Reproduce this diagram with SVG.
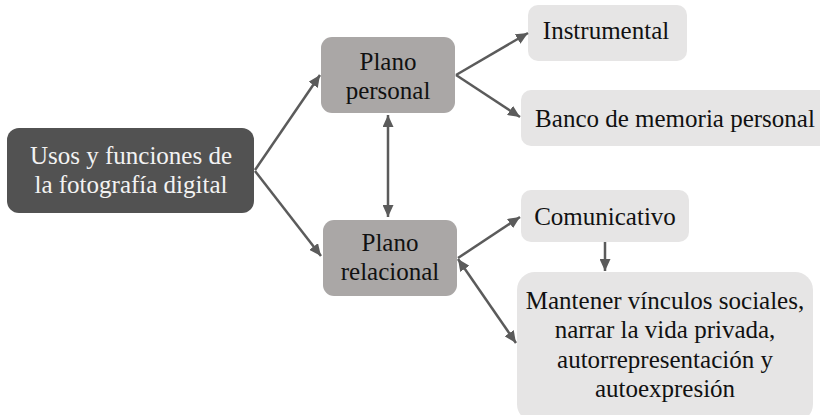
<svg xmlns="http://www.w3.org/2000/svg" width="820" height="415" viewBox="0 0 820 415" font-family="'Liberation Serif', serif">
  <style>
    text { font-family: 'Liberation Serif', serif; font-size: 25px; text-anchor: middle; }
    .dark rect { fill: #525252; }
    .dark text { fill: #f2f2f2; }
    .mid rect { fill: #aaa7a6; }
    .light rect { fill: #e6e5e5; }
    .mid text, .light text { fill: #111111; }
    .conn line { stroke: #5b5b5b; stroke-width: 2.5; fill: none; }
  </style>
  <defs>
    <marker id="ah" viewBox="0 0 12 11" refX="12" refY="5.5" markerWidth="12" markerHeight="11" markerUnits="userSpaceOnUse" orient="auto-start-reverse">
      <path d="M0,0 L12,5.5 L0,11 Z" fill="#5b5b5b"/>
    </marker>
  </defs>
  <rect width="820" height="415" fill="#ffffff"/>

  <g id="main" class="dark">
    <rect x="7" y="128" width="247" height="85" rx="12"/>
    <text x="131" y="164">Usos y funciones de</text>
    <text x="131" y="193">la fotografía digital</text>
  </g>

  <g id="plano-personal" class="mid">
    <rect x="321" y="37" width="134" height="76" rx="11"/>
    <text x="388" y="70">Plano</text>
    <text x="388" y="99">personal</text>
  </g>

  <g id="plano-relacional" class="mid">
    <rect x="323" y="220" width="134" height="76" rx="11"/>
    <text x="390" y="251">Plano</text>
    <text x="390" y="280">relacional</text>
  </g>

  <g id="instrumental" class="light">
    <rect x="528" y="5" width="159" height="56" rx="10"/>
    <text x="606" y="39">Instrumental</text>
  </g>

  <g id="banco" class="light">
    <rect x="521" y="90" width="310" height="56" rx="10"/>
    <text x="675" y="127">Banco de memoria personal</text>
  </g>

  <g id="comunicativo" class="light">
    <rect x="521" y="190" width="168" height="52" rx="10"/>
    <text x="605" y="225">Comunicativo</text>
  </g>

  <g id="vinculos" class="light">
    <rect x="517" y="272" width="296" height="150" rx="18"/>
    <text x="665" y="309">Mantener vínculos sociales,</text>
    <text x="665" y="338">narrar la vida privada,</text>
    <text x="665" y="368">autorrepresentación y</text>
    <text x="665" y="397">autoexpresión</text>
  </g>

  <g id="connectors" class="conn">
    <line x1="255" y1="170" x2="320" y2="75" marker-end="url(#ah)"/>
    <line x1="255" y1="171" x2="321" y2="256" marker-end="url(#ah)"/>
    <line x1="388" y1="115" x2="388" y2="217" marker-start="url(#ah)" marker-end="url(#ah)"/>
    <line x1="456" y1="75" x2="528" y2="33" marker-end="url(#ah)"/>
    <line x1="456" y1="75" x2="520" y2="117" marker-end="url(#ah)"/>
    <line x1="458" y1="258" x2="520" y2="217" marker-end="url(#ah)"/>
    <line x1="458" y1="259" x2="516" y2="343" marker-start="url(#ah)" marker-end="url(#ah)"/>
    <line x1="605" y1="242" x2="605" y2="271" marker-end="url(#ah)"/>
  </g>
</svg>
